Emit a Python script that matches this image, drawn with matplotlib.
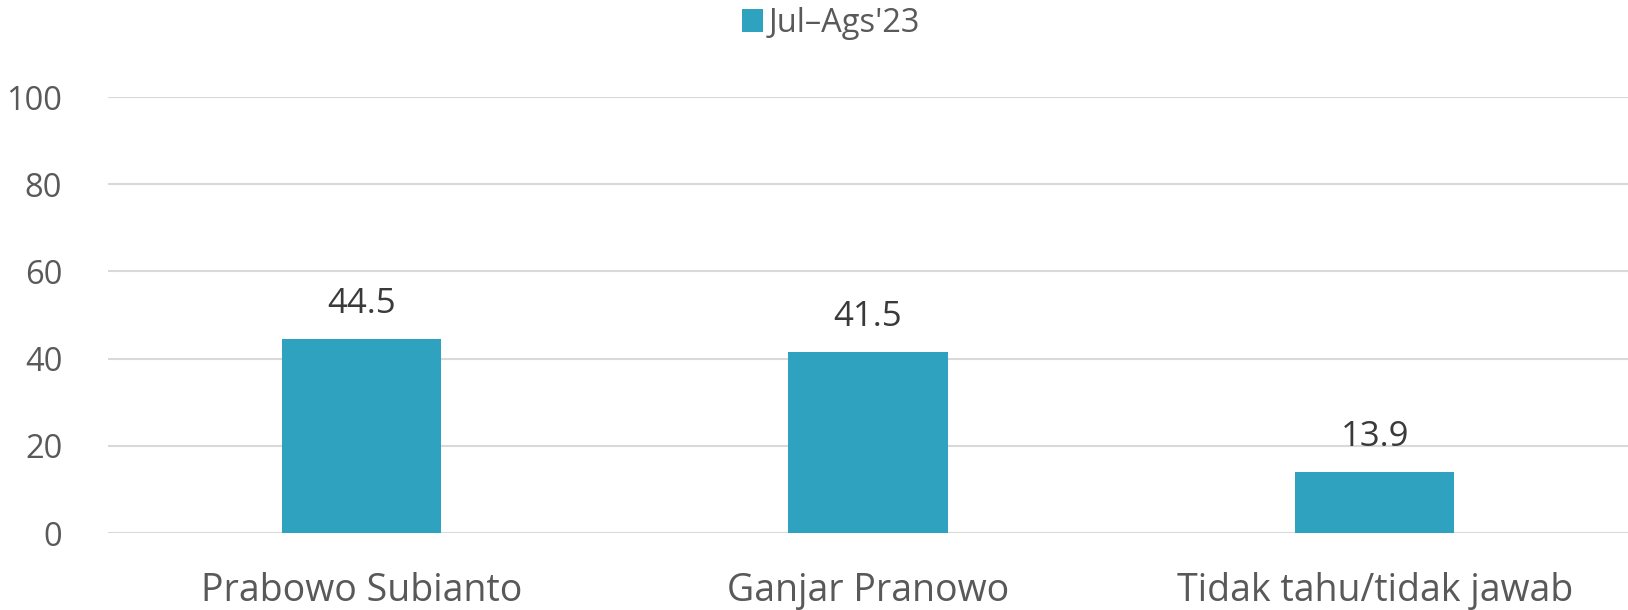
import matplotlib
matplotlib.use("Agg")
import matplotlib.pyplot as plt
from matplotlib.patches import Patch

categories = ["Prabowo Subianto", "Ganjar Pranowo", "Tidak tahu/tidak jawab"]
values = [44.5, 41.5, 13.9]
series_name = "Jul-Ags'23"
yticks = [0, 20, 40, 60, 80, 100]

plt.rcParams['font.family'] = ['Open Sans', 'DejaVu Sans']
W, H = 1628, 610
fig = plt.figure(figsize=(W/100, H/100), dpi=100)
ax = fig.add_axes([108/W, 1-533/H, 1520/W, (533-97)/H])

bar_color = "#2ea2bf"
x = list(range(len(categories)))
bars = ax.bar(x, values, width=0.315, color=bar_color, zorder=3)
for xi, v in zip(x, values):
    ax.annotate(f"{v:.1f}", (xi, v), xytext=(0, 13), textcoords="offset points",
                ha="center", va="bottom", fontsize=25, color="#3a3a3a", fontweight="medium")

ax.set_xlim(-0.5, len(categories)-0.5)
ax.set_ylim(0, 100)
ax.set_yticks(yticks)
ax.set_yticklabels([str(t) for t in yticks], fontsize=23.5, color="#595959")
ax.set_xticks(x)
ax.set_xticklabels(categories, fontsize=27, color="#595959", fontweight="medium")
ax.tick_params(axis='x', length=0, pad=28)
ax.tick_params(axis='y', length=0, pad=33)
for lbl in ax.get_yticklabels():
    lbl.set_ha("right")
ax.yaxis.grid(True, color="#d9d9d9", linewidth=1.5, zorder=0)
ax.set_axisbelow(True)
for s in ax.spines.values():
    s.set_visible(False)

handle = Patch(facecolor=bar_color, edgecolor="none")
fig.legend([handle], [series_name.replace("-", "\u2013")], loc="center", bbox_to_anchor=(831/W, 1-23/H),
           frameon=False, fontsize=23.5, labelcolor="#595959", handlelength=0.65, handleheight=0.7,
           handletextpad=0.15, borderaxespad=0)

fig.savefig("out.png", dpi=100, facecolor="white")
